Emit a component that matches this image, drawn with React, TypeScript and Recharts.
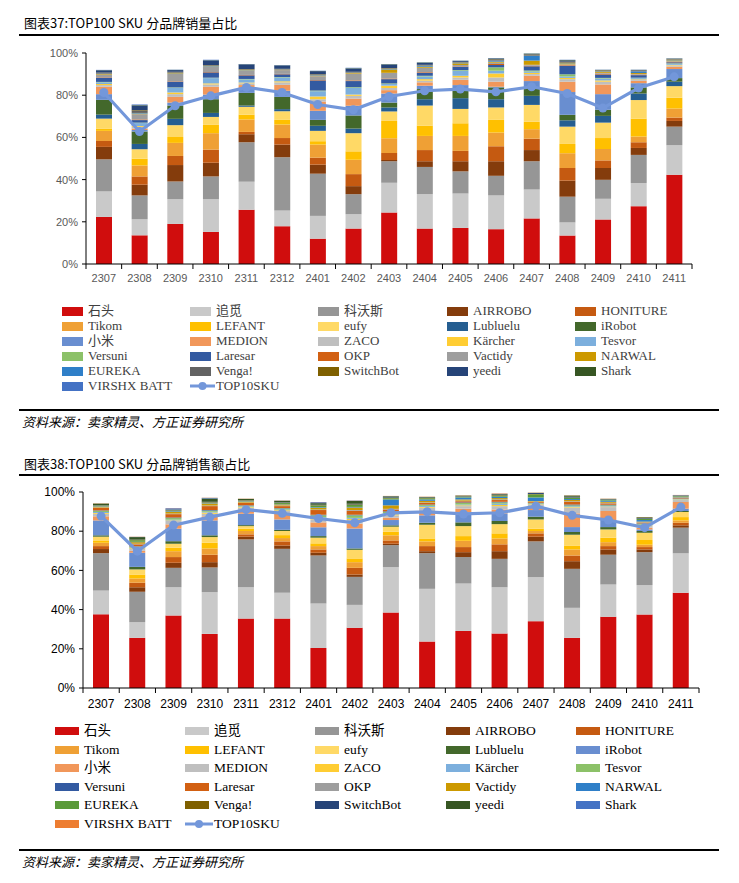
import React from 'react';
import { ComposedChart, Bar, Line, XAxis, YAxis } from 'recharts';

const months = ['2307', '2308', '2309', '2310', '2311', '2312', '2401', '2402', '2403', '2404', '2405', '2406', '2407', '2408', '2409', '2410', '2411'];
const brandNames = ['石头', '追觅', '科沃斯', 'AIRROBO', 'HONITURE', 'Tikom', 'LEFANT', 'eufy', 'Lubluelu', 'iRobot', '小米', 'MEDION', 'ZACO', 'Kärcher', 'Tesvor', 'Versuni', 'Laresar', 'OKP', 'Vactidy', 'NARWAL', 'EUREKA', 'Venga!', 'SwitchBot', 'yeedi', 'Shark', 'VIRSHX BATT'];
const lineName = 'TOP10SKU';
const yTicks = [0, 20, 40, 60, 80, 100];

// ---------- 图表37: 销量占比 (%) ----------
const volShitou = [22.3, 13.6, 19.0, 15.2, 25.7, 17.9, 12.0, 16.8, 24.4, 16.8, 17.1, 16.5, 21.6, 13.5, 21.1, 27.4, 42.3];
const volZhuimi = [12.1, 7.6, 11.7, 15.5, 13.3, 7.5, 10.8, 6.8, 14.1, 16.3, 16.3, 16.0, 13.7, 6.2, 9.8, 11.0, 14.0];
const volKewosi = [15.2, 11.3, 8.4, 10.8, 18.7, 25.2, 20.0, 9.5, 10.2, 12.9, 10.5, 9.3, 13.4, 12.2, 9.0, 13.3, 8.8];
const volAirrobo = [5.9, 5.1, 7.8, 6.5, 3.8, 6.0, 4.3, 3.8, 0.6, 2.7, 4.8, 6.9, 5.3, 7.6, 5.6, 3.3, 2.7];
const volHoniture = [2.8, 3.9, 4.3, 6.2, 1.1, 3.1, 3.3, 5.7, 3.3, 5.3, 4.9, 7.1, 5.4, 6.0, 3.6, 2.7, 1.6];
const volTikom = [4.8, 5.2, 6.2, 7.8, 5.9, 6.4, 6.2, 6.8, 7.0, 6.7, 7.1, 6.5, 4.5, 7.0, 5.4, 2.7, 4.3];
const volLefant = [1.1, 3.2, 2.8, 4.1, 2.3, 2.2, 1.6, 4.0, 8.2, 4.9, 6.0, 6.0, 3.5, 4.4, 5.2, 8.5, 5.1];
const volEufy = [4.7, 4.5, 5.6, 3.6, 3.7, 4.1, 4.9, 8.6, 4.5, 9.5, 6.8, 5.9, 8.0, 8.2, 7.3, 8.8, 5.5];
const volLubluelu = [1.9, 2.5, 3.0, 1.9, 0.6, 1.0, 2.4, 2.2, 1.9, 3.0, 5.1, 3.9, 4.3, 3.0, 3.2, 3.1, 2.1];
const volIrobot = [7.0, 5.9, 6.3, 6.5, 6.0, 5.8, 2.8, 6.2, 2.3, 4.8, 4.3, 5.6, 4.0, 2.6, 2.9, 2.9, 1.7];
const volXiaomi = [2.7, 0.7, 1.4, 2.2, 2.1, 2.9, 4.3, 4.6, 4.3, 1.6, 1.9, 0.3, 3.0, 10.8, 7.4, 2.0, 4.3];
const volMedion = [3.5, 0.7, 2.7, 3.7, 1.6, 2.8, 4.4, 3.4, 1.6, 1.6, 2.5, 2.4, 2.5, 4.9, 4.6, 1.1, 1.1];
const volZaco = [0.8, 0.8, 1.3, 1.1, 0.8, 1.2, 1.1, 1.3, 1.0, 0.8, 1.1, 2.0, 0.8, 1.2, 1.3, 0.4, 0.6];
const volKarcher = [0.5, 0.4, 0.8, 0.5, 0.4, 0.5, 1.3, 0.6, 1.1, 0.7, 0.8, 1.9, 0.6, 0.6, 0.6, 0.3, 0.3];
const volTesvor = [0.8, 1.4, 2.2, 2.5, 1.5, 1.8, 2.5, 3.2, 0.8, 1.3, 2.4, 1.3, 0.6, 0.7, 0.9, 0.6, 0.5];
const volVersuni = [0.2, 0.2, 0.2, 0.2, 0.2, 0.2, 0.3, 0.3, 0.3, 0.3, 0.3, 1.6, 0.5, 1.0, 0.3, 0.2, 0.2];
const volLaresar = [2.0, 1.2, 2.7, 2.5, 1.7, 1.3, 4.8, 2.9, 2.0, 1.4, 1.6, 1.1, 2.0, 4.0, 1.6, 1.2, 0.5];
const volOkp = [0.2, 0.3, 0.2, 0.2, 0.2, 0.2, 0.2, 0.3, 0.3, 0.3, 0.2, 0.5, 0.3, 0.3, 0.4, 0.2, 0.2];
const volVactidy = [1.2, 2.5, 3.5, 2.4, 2.0, 1.8, 1.8, 3.2, 2.7, 2.1, 0.6, 0.6, 0.4, 0.4, 0.4, 0.3, 0.3];
const volNarwal = [0.3, 0.3, 0.3, 0.2, 0.2, 0.2, 0.3, 0.3, 1.6, 0.5, 0.8, 0.5, 2.0, 0.5, 0.6, 0.5, 0.4];
const volEureka = [0.2, 0.3, 0.2, 0.2, 0.2, 0.1, 0.2, 0.2, 0.3, 0.5, 0.3, 0.5, 2.3, 0.2, 0.2, 0.8, 0.3];
const volVenga = [0.3, 1.0, 0.3, 0.2, 0.2, 0.2, 0.2, 0.2, 0.2, 0.2, 0.2, 0.3, 0.3, 0.3, 0.2, 0.2, 0.2];
const volSwitchbot = [0.2, 0.3, 0.2, 0.2, 0.2, 0.1, 0.2, 0.2, 0.2, 0.2, 0.2, 0.3, 0.3, 0.3, 0.2, 0.2, 0.2];
const volYeedi = [1.1, 2.2, 0.8, 2.3, 2.2, 1.6, 1.5, 1.5, 1.6, 0.9, 0.4, 0.4, 0.2, 0.6, 0.1, 0.2, 0.1];
const volShark = [0.1, 0.2, 0.1, 0.1, 0.1, 0.1, 0.1, 0.2, 0.2, 0.2, 0.1, 0.1, 0.2, 0.2, 0.1, 0.1, 0.1];
const volVirshx = [0.1, 0.3, 0.1, 0.2, 0.1, 0.1, 0.1, 0.2, 0.1, 0.1, 0.1, 0.1, 0.1, 0.1, 0.1, 0.1, 0.1];
const volTop10 = [81.3, 62.8, 75.0, 79.7, 83.7, 81.3, 75.6, 73.1, 79.4, 82.1, 82.9, 81.6, 84.0, 80.8, 73.9, 83.4, 88.7];

const volSeries = [volShitou, volZhuimi, volKewosi, volAirrobo, volHoniture, volTikom, volLefant, volEufy, volLubluelu, volIrobot, volXiaomi, volMedion, volZaco, volKarcher, volTesvor, volVersuni, volLaresar, volOkp, volVactidy, volNarwal, volEureka, volVenga, volSwitchbot, volYeedi, volShark, volVirshx];
const volColors = ['#D00D0D', '#C9C9C9', '#969696', '#843C0C', '#C55A11', '#EFA035', '#FFC000', '#FFD966', '#255E91', '#43682B', '#698ED0', '#F1975A', '#BFBFBF', '#FFCD33', '#7CAFDD', '#8CC168', '#335AA1', '#D26012', '#9E9E9E', '#CC9900', '#2F7FC8', '#636363', '#7F6000', '#264478', '#375623', '#4472C4'];

// ---------- 图表38: 销售额占比 (%) ----------
const salShitou = [37.6, 25.6, 37.0, 27.6, 35.4, 35.4, 20.4, 30.7, 38.5, 23.7, 29.1, 27.8, 34.1, 25.6, 36.3, 37.5, 48.6];
const salZhuimi = [12.1, 8.0, 14.4, 21.3, 16.0, 13.2, 22.7, 11.7, 23.2, 26.9, 24.2, 23.6, 22.5, 15.3, 16.5, 15.0, 20.1];
const salKewosi = [19.1, 15.5, 9.9, 12.6, 24.4, 22.4, 24.5, 14.3, 11.2, 18.2, 13.5, 14.5, 18.2, 19.9, 15.2, 16.8, 13.1];
const salAirrobo = [2.1, 2.3, 2.6, 2.7, 1.4, 1.7, 1.4, 1.2, 0.7, 1.0, 2.5, 3.9, 2.4, 3.9, 2.7, 1.4, 1.2];
const salHoniture = [1.5, 2.3, 2.9, 3.8, 1.2, 2.1, 1.7, 3.4, 1.7, 2.6, 2.6, 3.5, 1.7, 2.9, 1.7, 1.2, 1.3];
const salTikom = [1.7, 2.2, 3.0, 3.2, 1.7, 1.7, 1.7, 2.9, 2.6, 2.4, 3.2, 3.0, 1.2, 3.1, 2.0, 1.2, 1.2];
const salLefant = [1.2, 2.0, 1.8, 2.9, 1.2, 1.5, 1.4, 1.9, 1.8, 1.5, 2.4, 2.6, 1.2, 2.0, 2.3, 2.4, 1.7];
const salEufy = [1.9, 2.6, 2.0, 2.9, 1.3, 2.1, 2.9, 4.4, 2.6, 7.0, 5.1, 4.7, 4.7, 5.5, 4.2, 3.7, 2.6];
const salLubluelu = [0.7, 1.3, 1.3, 0.9, 0.5, 0.6, 0.8, 0.7, 0.7, 1.0, 1.9, 1.6, 1.4, 1.4, 1.2, 0.9, 0.5];
const salIrobot = [7.6, 7.2, 6.4, 7.6, 5.8, 5.3, 4.5, 10.2, 2.7, 3.8, 4.9, 3.9, 3.4, 2.5, 3.6, 0.8, 1.2];
const salXiaomi = [2.1, 1.0, 2.2, 2.1, 1.9, 2.9, 2.5, 2.4, 1.2, 2.2, 2.1, 2.0, 1.2, 7.0, 4.6, 0.9, 3.4];
const salMedion = [1.3, 0.9, 1.7, 1.3, 1.2, 1.4, 1.5, 1.9, 1.2, 1.7, 1.3, 1.7, 1.4, 2.9, 2.0, 0.8, 1.0];
const salZaco = [0.4, 0.4, 0.3, 0.6, 0.3, 0.4, 0.6, 0.6, 0.5, 0.4, 0.4, 0.6, 0.3, 0.3, 0.3, 0.3, 0.2];
const salKarcher = [0.5, 0.3, 0.4, 0.4, 0.3, 0.3, 0.5, 0.5, 0.5, 0.5, 0.4, 0.6, 0.3, 0.4, 0.3, 0.4, 0.2];
const salTesvor = [0.6, 0.5, 0.8, 0.6, 0.4, 0.6, 1.0, 1.3, 0.7, 0.5, 0.8, 0.7, 0.3, 0.5, 0.3, 0.5, 0.2];
const salVersuni = [0.2, 0.2, 0.3, 0.3, 0.2, 0.2, 0.3, 0.3, 0.3, 0.2, 0.3, 0.3, 0.2, 0.4, 0.3, 0.2, 0.2];
const salLaresar = [1.3, 1.0, 1.7, 2.0, 1.2, 1.0, 2.4, 2.0, 1.0, 0.8, 0.6, 0.9, 0.4, 1.4, 0.7, 0.4, 0.3];
const salOkp = [0.2, 0.3, 0.3, 0.3, 0.2, 0.3, 0.3, 0.4, 0.3, 0.3, 0.3, 0.4, 0.2, 0.3, 0.3, 0.2, 0.1];
const salVactidy = [0.5, 0.8, 0.9, 1.0, 0.5, 0.6, 0.9, 1.3, 1.8, 0.8, 0.6, 0.6, 0.3, 0.6, 0.5, 0.3, 0.2];
const salNarwal = [0.2, 0.2, 0.3, 0.2, 0.2, 0.2, 0.3, 0.3, 3.0, 0.7, 1.0, 0.7, 1.8, 0.5, 0.6, 0.8, 0.3];
const salEureka = [0.3, 0.8, 0.3, 0.3, 0.3, 0.6, 0.8, 1.0, 0.6, 0.6, 0.4, 0.5, 1.6, 0.6, 0.4, 0.6, 0.3];
const salVenga = [0.1, 0.2, 0.2, 0.2, 0.2, 0.2, 0.2, 0.3, 0.2, 0.2, 0.2, 0.3, 0.2, 0.2, 0.1, 0.1, 0.1];
const salSwitchbot = [0.1, 0.1, 0.2, 0.2, 0.1, 0.2, 0.2, 0.3, 0.3, 0.2, 0.2, 0.3, 0.5, 0.4, 0.2, 0.3, 0.2];
const salYeedi = [0.8, 1.3, 0.2, 1.7, 0.6, 0.6, 0.8, 1.4, 0.5, 0.3, 0.2, 0.3, 0.1, 0.6, 0.2, 0.4, 0.1];
const salShark = [0.0, 0.1, 0.6, 0.3, 0.0, 0.1, 0.5, 0.2, 0.1, 0.0, 0.0, 0.1, 0.0, 0.0, 0.0, 0.0, 0.1];
const salVirshx = [0.1, 0.1, 0.1, 0.1, 0.1, 0.1, 0.1, 0.1, 0.1, 0.1, 0.1, 0.2, 0.1, 0.1, 0.1, 0.1, 0.1];
const salTop10 = [87.7, 69.8, 83.1, 87.2, 91.0, 89.1, 86.5, 84.3, 89.4, 89.9, 88.8, 89.4, 92.8, 88.1, 85.7, 81.8, 92.3];

const salSeries = [salShitou, salZhuimi, salKewosi, salAirrobo, salHoniture, salTikom, salLefant, salEufy, salLubluelu, salIrobot, salXiaomi, salMedion, salZaco, salKarcher, salTesvor, salVersuni, salLaresar, salOkp, salVactidy, salNarwal, salEureka, salVenga, salSwitchbot, salYeedi, salShark, salVirshx];
const salColors = ['#D00D0D', '#C9C9C9', '#969696', '#843C0C', '#C55A11', '#EFA035', '#FFC000', '#FFD966', '#43682B', '#698ED0', '#F1975A', '#BFBFBF', '#FFCD33', '#7CAFDD', '#8CC168', '#335AA1', '#D26012', '#9E9E9E', '#CC9900', '#2F7FC8', '#5B9A3A', '#7F6000', '#264478', '#375623', '#4472C4', '#ED7D31'];

const lineColor = '#7397DA';

function buildRows(series: number[][], top: number[]) {
  return months.map((m, i) => {
    const row: any = { month: m, top: top[i] };
    series.forEach((arr, k) => {
      row['s' + k] = arr[i];
    });
    return row;
  });
}

type Cfg = {
  top: number;
  height: number;
  marginTop: number;
  left: number;
  right: number;
  xAxisH: number;
  tickFill: string;
  fontSize: number;
  fontFamily: string;
  labelDy: number;
};

function StackChart({ series, top10, colors, cfg }: { series: number[][]; top10: number[]; colors: string[]; cfg: Cfg }) {
  const rows = buildRows(series, top10);
  const plotWidth = 739 - cfg.left - cfg.right;
  const step = plotWidth / months.length;
  const renderXTick = (p: any) => {
    const { x, y, payload, index } = p;
    return (
      <g>
        <line x1={x - step / 2} x2={x - step / 2} y1={y} y2={y + 5} stroke="#000" strokeWidth={1} />
        {index === months.length - 1 ? (
          <line x1={x + step / 2} x2={x + step / 2} y1={y} y2={y + 5} stroke="#000" strokeWidth={1} />
        ) : null}
        <text x={x} y={y + cfg.labelDy} textAnchor="middle" fill={cfg.tickFill} fontSize={cfg.fontSize} fontFamily={cfg.fontFamily}>
          {payload.value}
        </text>
      </g>
    );
  };
  return (
    <div style={{ position: 'absolute', left: 0, top: cfg.top, width: 739, height: cfg.height }}>
      <ComposedChart width={739} height={cfg.height} data={rows} margin={{ top: cfg.marginTop, right: cfg.right, bottom: 0, left: 0 }}>
        <XAxis
          dataKey="month"
          height={cfg.xAxisH}
          tickSize={0}
          tickMargin={0}
          interval={0}
          axisLine={{ stroke: '#000', strokeWidth: 1 }}
          tick={renderXTick}
        />
        <YAxis
          width={cfg.left}
          domain={[0, 100]}
          ticks={yTicks}
          interval={0}
          tickFormatter={(v: number) => v + '%'}
          tickSize={4}
          tickMargin={4}
          axisLine={{ stroke: '#000', strokeWidth: 1 }}
          tickLine={{ stroke: '#000', strokeWidth: 1 }}
          tick={{ fill: cfg.tickFill, fontSize: cfg.fontSize, fontFamily: cfg.fontFamily }}
        />
        {colors.map((c, k) => (
          <Bar key={k} dataKey={'s' + k} name={brandNames[k]} stackId="a" fill={c} barSize={16} isAnimationActive={false} />
        ))}
        <Line
          dataKey="top"
          name={lineName}
          stroke={lineColor}
          strokeWidth={3.2}
          dot={{ r: 4.5, fill: lineColor, stroke: lineColor, strokeWidth: 0 }}
          isAnimationActive={false}
        />
      </ComposedChart>
    </div>
  );
}

type LegCfg = {
  top: number;
  rowH: number;
  colX: number[];
  swW: number;
  swH: number;
  textOff: number;
  fontSize: number;
  color: string;
};

function LegendBlock({ colors, cfg }: { colors: string[]; cfg: LegCfg }) {
  const items: { name: string; color: string; line?: boolean }[] = brandNames.map((n, k) => ({ name: n, color: colors[k] }));
  items.push({ name: lineName, color: lineColor, line: true });
  return (
    <>
      {items.map((it, i) => {
        const row = Math.floor(i / 5);
        const col = i % 5;
        const cy = cfg.top + row * cfg.rowH;
        const x = cfg.colX[col];
        return (
          <div key={i} style={{ position: 'absolute', left: x, top: cy - 9, height: 18, width: 130 }}>
            {it.line ? (
              <svg width={cfg.swW + 4} height={18} style={{ position: 'absolute', left: 0, top: 0 }}>
                <line x1={0} x2={cfg.swW + 4} y1={9} y2={9} stroke={it.color} strokeWidth={3} />
                <circle cx={(cfg.swW + 4) / 2} cy={9} r={4} fill={it.color} />
              </svg>
            ) : (
              <div
                style={{
                  position: 'absolute',
                  left: 0,
                  top: 9 - cfg.swH / 2,
                  width: cfg.swW,
                  height: cfg.swH,
                  background: it.color,
                }}
              />
            )}
            <div
              style={{
                position: 'absolute',
                left: cfg.textOff,
                top: 0,
                height: 18,
                lineHeight: '18px',
                fontSize: cfg.fontSize,
                color: cfg.color,
                fontFamily: "'Liberation Serif', 'Noto Sans CJK SC', serif",
                whiteSpace: 'nowrap',
              }}
            >
              {it.name}
            </div>
          </div>
        );
      })}
    </>
  );
}

const titleStyle: React.CSSProperties = {
  position: 'absolute',
  left: 24,
  fontSize: 13,
  lineHeight: '16px',
  color: '#000',
  fontFamily: "'Noto Sans CJK SC', sans-serif",
  whiteSpace: 'nowrap',
};
const sourceStyle: React.CSSProperties = {
  position: 'absolute',
  left: 22,
  fontSize: 13,
  lineHeight: '16px',
  color: '#000',
  fontStyle: 'italic',
  fontFamily: "'Noto Sans CJK SC', sans-serif",
  whiteSpace: 'nowrap',
};
const ruleStyle = (top: number): React.CSSProperties => ({
  position: 'absolute',
  left: 19,
  top,
  width: 700,
  height: 2,
  background: '#000',
});

export default function App() {
  const cfg1: Cfg = {
    top: 0,
    height: 300,
    marginTop: 53,
    left: 86,
    right: 47,
    xAxisH: 36,
    tickFill: '#595959',
    fontSize: 11,
    fontFamily: "'Liberation Sans', Arial, sans-serif",
    labelDy: 18,
  };
  const cfg2: Cfg = {
    top: 440,
    height: 300,
    marginTop: 52,
    left: 83,
    right: 40,
    xAxisH: 52,
    tickFill: '#000',
    fontSize: 12,
    fontFamily: "'Liberation Sans', Arial, sans-serif",
    labelDy: 20,
  };
  const leg1: LegCfg = { top: 311, rowH: 15, colX: [62, 190, 318, 447, 575], swW: 21, swH: 9, textOff: 26, fontSize: 13, color: '#404040' };
  const leg2: LegCfg = { top: 731, rowH: 18.5, colX: [55, 185, 315, 446, 576], swW: 24, swH: 8, textOff: 29, fontSize: 13.5, color: '#000' };
  return (
    <div style={{ position: 'absolute', left: 0, top: 0, width: 739, height: 883, background: '#fff', overflow: 'hidden' }}>
      <div style={{ ...titleStyle, top: 15 }}>图表37:TOP100 SKU 分品牌销量占比</div>
      <div style={ruleStyle(34)} />
      <StackChart series={volSeries} top10={volTop10} colors={volColors} cfg={cfg1} />
      <LegendBlock colors={volColors} cfg={leg1} />
      <div style={ruleStyle(409)} />
      <div style={{ ...sourceStyle, top: 414 }}>资料来源：卖家精灵、方正证券研究所</div>

      <div style={{ ...titleStyle, top: 456 }}>图表38:TOP100 SKU 分品牌销售额占比</div>
      <div style={ruleStyle(474)} />
      <StackChart series={salSeries} top10={salTop10} colors={salColors} cfg={cfg2} />
      <LegendBlock colors={salColors} cfg={leg2} />
      <div style={ruleStyle(849)} />
      <div style={{ ...sourceStyle, top: 854 }}>资料来源：卖家精灵、方正证券研究所</div>
    </div>
  );
}
